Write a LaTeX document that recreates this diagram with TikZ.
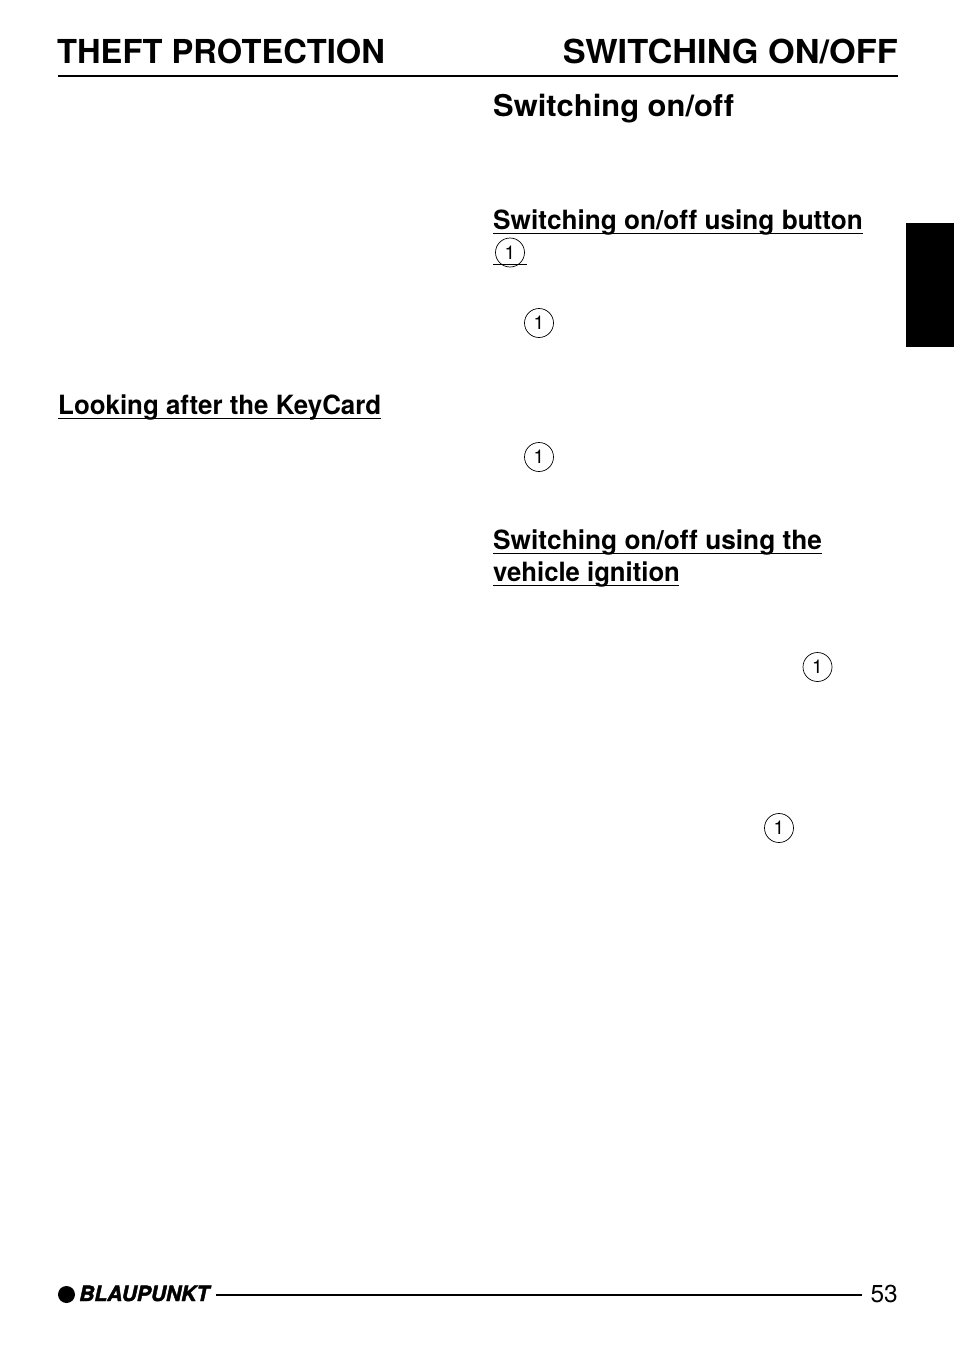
\documentclass[tikz,border=0pt]{standalone}
\usepackage{fontspec}
\setmainfont{TeX Gyre Heros}[Ligatures=NoCommon]
\newfontfamily\brandfont{TeX Gyre Heros}[BoldItalicFeatures={FakeBold=2}]
\tikzset{x=1pt,y=-1pt}
\tikzstyle{heading}=[anchor=base west, inner sep=0pt, font=\fontsize{33}{33}\selectfont\bfseries]
\tikzstyle{title}=[anchor=base west, inner sep=0pt, font=\fontsize{30}{30}\selectfont\bfseries]
\tikzstyle{subhead}=[anchor=base west, inner sep=0pt, font=\fontsize{26.5}{26.5}\selectfont\bfseries]
\tikzstyle{keynum}=[circle, draw, line width=0.7pt, inner sep=0pt, minimum size=29pt, font=\fontsize{19}{19}\selectfont]
\tikzstyle{rule}=[line width=1.6pt]
\newcommand{\keynum}{\node[keynum]}
\begin{document}
\begin{tikzpicture}
	\useasboundingbox (0,0) rectangle (954,1349);
	%% the page heads
	\node[heading, xscale=0.99, transform shape] (theft) at (57,63) {THEFT PROTECTION};
	\node[heading, anchor=base east, xscale=1.04, transform shape] (switching) at (898,63) {SWITCHING ON/OFF};
	\draw[line width=2pt] (57.5,75.5) -- (898,75.5);
	\node[title, xscale=1.03, transform shape] (main) at (493,116) {Switching on/off};
	%% the underlined subheads
	\node[subhead, xscale=0.988, transform shape] (button) at (493,229) {Switching on/off using button};
	\node[subhead, xscale=0.977, transform shape] (care) at (58,414) {Looking after the KeyCard};
	\node[subhead, xscale=0.991, transform shape] (ignition) at (493,549) {Switching on/off using the};
	\node[subhead, xscale=0.97, transform shape] (vehicle) at (493,581) {vehicle ignition};
	\draw[rule] (493,233.5) -- (863,233.5);
	\draw[rule] (493,264.5) -- (527,264.5);
	\draw[rule] (58,418.5) -- (381,418.5);
	\draw[rule] (493,553.5) -- (822,553.5);
	\draw[rule] (493,585.5) -- (679,585.5);
	%% the key numbers
	\keynum (k1) at (510,252.5) {1};
	\keynum (k2) at (539,323) {1};
	\keynum (k3) at (539,457) {1};
	\keynum (k4) at (817.5,667) {1};
	\keynum (k5) at (779,828) {1};
	%% the thumb tab
	\fill (906,223) rectangle (954,347);
	%% the foot of the page
	\fill (66.5,1294.5) circle (8.5);
	\node[anchor=base west, inner sep=0pt, font=\fontsize{21}{21}\selectfont\brandfont\bfseries\itshape] (brand) at (79,1301) {BLAUPUNKT};
	\draw[line width=2pt] (216,1294.5) -- (862,1294.5);
	\node[anchor=base east, inner sep=0pt, font=\fontsize{24.5}{24.5}\selectfont] (page) at (898,1302) {53};
\end{tikzpicture}
\end{document}
